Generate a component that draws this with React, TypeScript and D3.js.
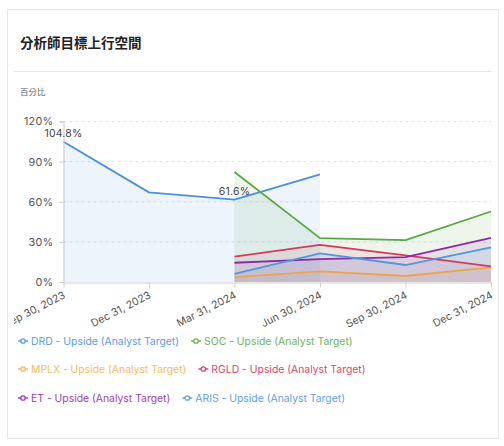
import { useEffect, useRef } from 'react';
import * as d3 from 'd3';

const categories = ['Sep 30, 2023', 'Dec 31, 2023', 'Mar 31, 2024', 'Jun 30, 2024', 'Sep 30, 2024', 'Dec 31, 2024'];
const yTicks = [0, 30, 60, 90, 120];

const drd = [104.8, 67.0, 61.6, 80.5, null, null];
const soc = [null, null, 82.2, 32.8, 31.3, 52.7];
const mplx = [null, null, 3.7, 8.0, 4.5, 11.0];
const rgld = [null, null, 18.9, 27.8, 19.9, 11.7];
const et = [null, null, 14.4, 17.1, 18.6, 33.0];
const aris = [null, null, 6.0, 21.4, 12.7, 25.8];

const seriesNames = ['DRD', 'SOC', 'MPLX', 'RGLD', 'ET', 'ARIS'];
const seriesValues = [drd, soc, mplx, rgld, et, aris];
const seriesColors = ['#4a90e2', '#5aa845', '#eda54c', '#d23a5f', '#8e2aa8', '#4f98e0'];
const legendColors = ['#5a9de6', '#6db35a', '#f5bd55', '#d9486e', '#9c3fb5', '#5fa2e6'];

// labelled points (series index, category index)
const pointLabels: [number, number][] = [[0, 0], [0, 2]];

export default function App() {
    const svgRef = useRef<SVGSVGElement>(null);

    useEffect(() => {
        if (!svgRef.current) return;
        const svg = d3.select(svgRef.current);
        svg.selectAll('*').remove();

        const font = 'Inter, "Noto Sans CJK TC", sans-serif';

        // card
        svg.append('rect')
            .attr('x', 7.5).attr('y', 9.5)
            .attr('width', 491).attr('height', 429)
            .attr('fill', '#fff')
            .attr('stroke', '#e6e6e6');

        svg.append('text')
            .attr('x', 20).attr('y', 48)
            .attr('font-family', '"Noto Sans CJK TC", sans-serif')
            .attr('font-size', 13.5)
            .attr('font-weight', 600)
            .attr('fill', '#222')
            .text('分析師目標上行空間');

        svg.append('line')
            .attr('x1', 14).attr('x2', 491)
            .attr('y1', 71.5).attr('y2', 71.5)
            .attr('stroke', '#e8e8e8');

        svg.append('text')
            .attr('x', 20).attr('y', 95)
            .attr('font-family', '"Noto Sans CJK TC", sans-serif')
            .attr('font-size', 8.5)
            .attr('fill', '#666')
            .text('百分比');

        const clip = svg.append('defs').append('clipPath').attr('id', 'chartclip');
        clip.append('rect').attr('x', 14).attr('y', 72).attr('width', 484).attr('height', 366);

        const g = svg.append('g').attr('clip-path', 'url(#chartclip)');

        const x = d3.scalePoint<string>().domain(categories).range([63.5, 491]);
        const y = d3.scaleLinear().domain([0, 120]).range([282, 121.5]);

        // grid
        g.append('g')
            .selectAll('line')
            .data(yTicks.filter(t => t > 0))
            .enter()
            .append('line')
            .attr('x1', 63.5).attr('x2', 491)
            .attr('y1', d => y(d)).attr('y2', d => y(d))
            .attr('stroke', '#e2e2e2')
            .attr('stroke-dasharray', '3,3');

        // areas & lines
        seriesValues.forEach((vals, i) => {
            const pts = categories
                .map((c, j) => ({ c, v: vals[j] }))
                .filter(p => p.v !== null) as { c: string; v: number }[];
            const area = d3.area<{ c: string; v: number }>()
                .x(d => x(d.c)!)
                .y0(y(0))
                .y1(d => y(d.v));
            g.append('path')
                .attr('d', area(pts))
                .attr('fill', seriesColors[i])
                .attr('fill-opacity', 0.1);
        });
        seriesValues.forEach((vals, i) => {
            const pts = categories
                .map((c, j) => ({ c, v: vals[j] }))
                .filter(p => p.v !== null) as { c: string; v: number }[];
            const line = d3.line<{ c: string; v: number }>()
                .x(d => x(d.c)!)
                .y(d => y(d.v));
            g.append('path')
                .attr('d', line(pts))
                .attr('fill', 'none')
                .attr('stroke', seriesColors[i])
                .attr('stroke-width', 1.8)
                .attr('stroke-linejoin', 'round');
        });

        // axes
        const yAxis = g.append('g')
            .attr('transform', 'translate(63.5,0)')
            .call(d3.axisLeft(y).tickValues(yTicks).tickSize(4).tickPadding(6).tickFormat(d => `${d}%`));
        yAxis.selectAll('.domain').attr('stroke', '#c8c8c8');
        yAxis.selectAll('line').attr('stroke', '#c8c8c8');
        yAxis.selectAll('text')
            .attr('font-family', font)
            .attr('font-size', 10.8)
            .attr('letter-spacing', 0.3)
            .attr('fill', '#555');

        const xAxis = g.append('g')
            .attr('transform', 'translate(0,282.5)')
            .call(d3.axisBottom(x).tickSize(5).tickSizeOuter(0));
        xAxis.selectAll('.domain').attr('stroke', '#d0d0d0');
        xAxis.selectAll('line').attr('stroke', '#d0d0d0');
        xAxis.selectAll('text')
            .attr('font-family', font)
            .attr('font-size', 10.5)
            .attr('fill', '#555')
            .attr('text-anchor', 'end')
            .attr('dy', '0')
            .attr('y', 0)
            .attr('transform', 'translate(2,15) rotate(-27)');

        // point labels
        pointLabels.forEach(([si, ci]) => {
            const v = seriesValues[si][ci] as number;
            g.append('text')
                .attr('x', x(categories[ci])!)
                .attr('y', y(v) - 5)
                .attr('text-anchor', 'middle')
                .attr('font-family', font)
                .attr('font-size', 10.5)
                .attr('letter-spacing', 0.2)
                .attr('fill', '#444')
                .text(`${v.toFixed(1)}%`);
        });

        // legend
        const rows = [[0, 1], [2, 3], [4, 5]];
        const rowY = [341, 369, 398];
        const legend = svg.append('g');
        rows.forEach((row, r) => {
            let cx = 18;
            row.forEach(si => {
                const item = legend.append('g');
                item.append('line')
                    .attr('x1', cx).attr('x2', cx + 10)
                    .attr('y1', rowY[r]).attr('y2', rowY[r])
                    .attr('stroke', legendColors[si])
                    .attr('stroke-width', 1.5);
                item.append('circle')
                    .attr('cx', cx + 5).attr('cy', rowY[r])
                    .attr('r', 2.2)
                    .attr('fill', '#fff')
                    .attr('stroke', legendColors[si])
                    .attr('stroke-width', 1.3);
                const t = item.append('text')
                    .attr('x', cx + 13)
                    .attr('y', rowY[r] + 3.8)
                    .attr('font-family', font)
                    .attr('font-size', 10.4)
                    .attr('fill', legendColors[si])
                    .text(`${seriesNames[si]} - Upside (Analyst Target)`);
                const w = (t.node() as SVGTextElement).getComputedTextLength();
                cx += 13 + w + 12;
            });
        });
    }, []);

    return (
        <svg
            ref={svgRef}
            width={504}
            height={446}
            style={{ position: 'absolute', left: 0, top: 0 }}
        />
    );
}
